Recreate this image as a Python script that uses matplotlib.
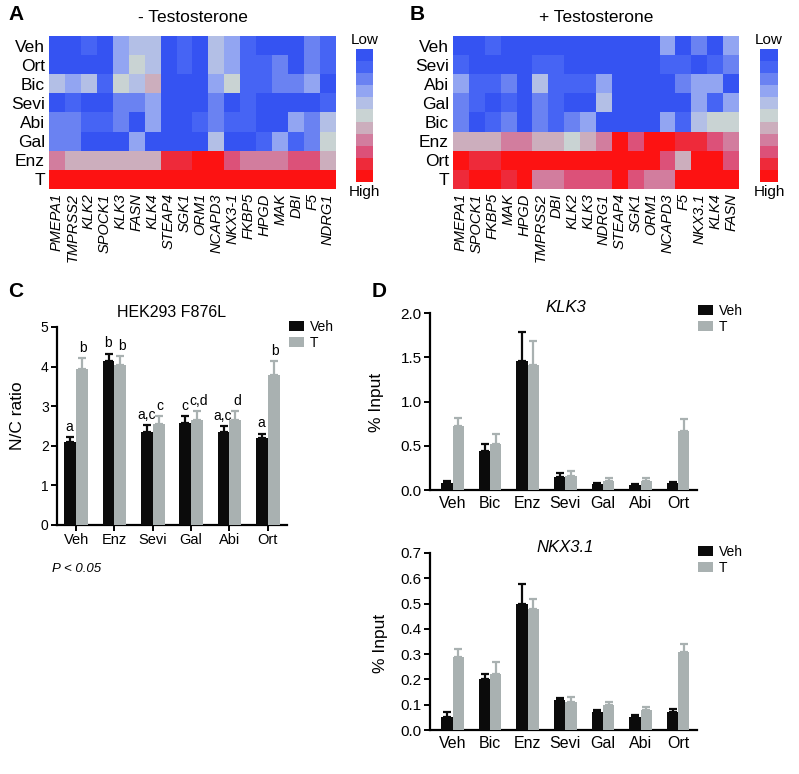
import numpy as np
import matplotlib
matplotlib.use("Agg")
import matplotlib.pyplot as plt
from matplotlib.colors import ListedColormap, BoundaryNorm
from matplotlib.patches import Patch

plt.rcParams['font.family'] = ['Liberation Sans', 'DejaVu Sans']

W, H = 799, 774

# heatmap levels, 0 = low ... 10 = high
rows_a = ["Veh", "Ort", "Bic", "Sevi", "Abi", "Gal", "Enz", "T"]
genes_a = ["PMEPA1", "TMPRSS2", "KLK2", "SPOCK1", "KLK3", "FASN", "KLK4", "STEAP4", "SGK1",
           "ORM1", "NCAPD3", "NKX3-1", "FKBP5", "HPGD", "MAK", "DBI", "F5", "NDRG1"]
heat_a = [
    [0, 0, 1, 0, 3, 4, 4, 0, 1, 0, 4, 3, 1, 0, 0, 0, 2, 1],
    [0, 0, 0, 0, 3, 5, 4, 0, 1, 0, 4, 3, 1, 1, 2, 0, 2, 1],
    [4, 3, 4, 1, 5, 4, 6, 0, 0, 0, 3, 5, 1, 1, 2, 2, 3, 0],
    [0, 1, 0, 0, 2, 2, 3, 0, 0, 0, 2, 0, 1, 0, 0, 0, 0, 1],
    [2, 2, 1, 1, 2, 0, 3, 0, 0, 1, 2, 1, 1, 0, 0, 3, 2, 4],
    [2, 2, 0, 0, 0, 3, 0, 0, 0, 0, 4, 0, 0, 1, 3, 1, 2, 5],
    [7, 6, 6, 6, 6, 6, 6, 9, 9, 10, 10, 8, 7, 7, 7, 8, 8, 6],
    [10, 10, 10, 10, 10, 10, 10, 10, 10, 10, 10, 10, 10, 10, 10, 10, 10, 10],
]

rows_b = ["Veh", "Sevi", "Abi", "Gal", "Bic", "Enz", "Ort", "T"]
genes_b = ["PMEPA1", "SPOCK1", "FKBP5", "MAK", "HPGD", "TMPRSS2", "DBI", "KLK2", "KLK3",
           "NDRG1", "STEAP4", "SGK1", "ORM1", "NCAPD3", "F5", "NKX3.1", "KLK4", "FASN"]
heat_b = [
    [0, 0, 1, 0, 0, 0, 0, 0, 0, 0, 0, 0, 0, 3, 0, 2, 0, 3],
    [1, 0, 0, 0, 0, 1, 1, 0, 0, 0, 0, 0, 0, 1, 1, 0, 1, 2],
    [3, 1, 1, 2, 0, 4, 1, 1, 1, 3, 0, 0, 0, 0, 2, 3, 3, 0],
    [2, 1, 0, 1, 0, 2, 1, 0, 0, 4, 0, 0, 0, 0, 0, 3, 1, 3],
    [2, 0, 1, 2, 0, 2, 1, 2, 3, 0, 0, 0, 0, 3, 1, 4, 5, 5],
    [6, 6, 6, 7, 7, 6, 6, 5, 6, 7, 10, 8, 10, 10, 9, 9, 8, 7],
    [10, 9, 9, 10, 10, 10, 10, 10, 10, 10, 10, 10, 10, 8, 6, 10, 10, 8],
    [9, 10, 10, 9, 10, 7, 7, 8, 8, 8, 10, 8, 7, 7, 10, 10, 10, 10],
]

level_colors = ["#3553f2", "#4664f4", "#6a82f2", "#92a5f2", "#b3bfe6", "#c9d3d3",
                "#ccaebd", "#d27d9e", "#dc5179", "#ee2a3a", "#fd1212"]

# panel C
groups_c = ["Veh", "Enz", "Sevi", "Gal", "Abi", "Ort"]
veh_c = [2.1, 4.15, 2.36, 2.58, 2.34, 2.19]
veh_c_err = [0.12, 0.18, 0.17, 0.16, 0.15, 0.12]
t_c = [3.95, 4.03, 2.54, 2.64, 2.65, 3.8]
t_c_err = [0.26, 0.23, 0.2, 0.23, 0.23, 0.34]
veh_c_letters = ["a", "b", "a,c", "c", "a,c", "a"]
t_c_letters = ["b", "b", "c", "c,d", "d", "b"]

# panel D
groups_d = ["Veh", "Bic", "Enz", "Sevi", "Gal", "Abi", "Ort"]
veh_klk3 = [0.08, 0.44, 1.46, 0.15, 0.07, 0.06, 0.08]
veh_klk3_err = [0.02, 0.08, 0.32, 0.04, 0.01, 0.01, 0.01]
t_klk3 = [0.72, 0.52, 1.41, 0.16, 0.10, 0.10, 0.67]
t_klk3_err = [0.09, 0.11, 0.27, 0.05, 0.03, 0.03, 0.13]

veh_nkx = [0.05, 0.20, 0.50, 0.12, 0.07, 0.05, 0.07]
veh_nkx_err = [0.02, 0.022, 0.076, 0.008, 0.01, 0.008, 0.012]
t_nkx = [0.29, 0.22, 0.48, 0.11, 0.10, 0.08, 0.31]
t_nkx_err = [0.03, 0.05, 0.04, 0.02, 0.012, 0.012, 0.03]

BLACK = "#0b0b0b"
GRAY = "#a9b1b1"


def box(x0, y0, x1, y1):
    return [x0 / W, 1 - y1 / H, (x1 - x0) / W, (y1 - y0) / H]


def ftext(x, y, s, **kw):
    fig.text(x / W, 1 - y / H, s, **kw)


fig = plt.figure(figsize=(W / 100, H / 100), dpi=100)

cmap = ListedColormap(level_colors)
norm = BoundaryNorm(np.arange(-0.5, 11.5, 1), cmap.N)


def heatmap(rect, cbar_rect, rows, genes, data, title, letter, letter_x):
    ax = fig.add_axes(box(*rect))
    ax.imshow(np.array(data), cmap=cmap, norm=norm, aspect="auto", interpolation="nearest")
    ax.set_yticks(range(len(rows)))
    ax.set_yticklabels(rows, fontsize=12.5)
    ax.set_xticks(range(len(genes)))
    ax.set_xticklabels(genes, rotation=90, fontsize=10.5, style="italic")
    ax.tick_params(length=0, pad=3)
    for s in ax.spines.values():
        s.set_visible(False)
    cx = (rect[0] + rect[2]) / 2
    ftext(cx, 17, title, ha="center", va="center", fontsize=12.5)
    ftext(letter_x, 14, letter, ha="left", va="center", fontsize=15, fontweight="bold")

    # discrete colour key, low on top
    cax = fig.add_axes(box(*cbar_rect))
    key = np.arange(len(level_colors)).reshape(-1, 1)
    cax.imshow(key, cmap=cmap, norm=norm, aspect="auto", interpolation="nearest")
    cax.set_xticks([])
    cax.set_yticks([])
    for s in cax.spines.values():
        s.set_visible(False)
    mx = (cbar_rect[0] + cbar_rect[2]) / 2
    ftext(mx, cbar_rect[1] - 9, "Low", ha="center", va="center", fontsize=11)
    ftext(mx, cbar_rect[3] + 10, "High", ha="center", va="center", fontsize=11)


heatmap((49, 36, 336, 189), (356, 49, 373, 182), rows_a, genes_a, heat_a,
        "- Testosterone", "A", 8)
heatmap((453, 36, 739, 189), (760, 49, 778, 182), rows_b, genes_b, heat_b,
        "+ Testosterone", "B", 410)


def bar_panel(ax, cats, veh, veh_err, t, t_err, width, ylim, yticks, ytl, xfs, yfs):
    x = np.arange(len(cats))
    z = np.zeros(len(cats))
    ekw = dict(capsize=3, elinewidth=1.6, capthick=1.6)
    ax.bar(x - width / 2, veh, width, color=BLACK, yerr=[z, veh_err],
           error_kw=dict(ecolor=BLACK, **ekw), label="Veh", zorder=3)
    ax.bar(x + width / 2, t, width, color=GRAY, yerr=[z, t_err],
           error_kw=dict(ecolor=GRAY, **ekw), label="T", zorder=3)
    ax.set_xticks(x)
    ax.set_xticklabels(cats, fontsize=xfs)
    ax.set_ylim(*ylim)
    ax.set_yticks(yticks)
    ax.set_yticklabels(ytl, fontsize=yfs)
    ax.set_xlim(-0.55, len(cats) - 0.5)
    for s in ["top", "right"]:
        ax.spines[s].set_visible(False)
    for s in ["left", "bottom"]:
        ax.spines[s].set_linewidth(1.6)
    ax.tick_params(width=1.4, length=4, pad=2)
    return x


def legend(x, y):
    handles = [Patch(facecolor=BLACK, edgecolor="none", label="Veh"),
               Patch(facecolor=GRAY, edgecolor="none", label="T")]
    fig.legend(handles=handles, loc="upper left", bbox_to_anchor=(x / W, 1 - y / H),
               frameon=False, fontsize=10, handlelength=1.1, handleheight=0.7,
               handletextpad=0.4, labelspacing=0.15, borderaxespad=0, borderpad=0)


# panel C
axc = fig.add_axes(box(57, 327, 287, 525))
xc = bar_panel(axc, groups_c, veh_c, veh_c_err, t_c, t_c_err, 0.31,
               (0, 5), range(6), [str(i) for i in range(6)], 10.5, 10)
for i in range(len(groups_c)):
    axc.text(xc[i] - 0.17, veh_c[i] + veh_c_err[i] + 0.08, veh_c_letters[i],
             ha="center", va="bottom", fontsize=10)
    axc.text(xc[i] + 0.19, t_c[i] + t_c_err[i] + 0.08, t_c_letters[i],
             ha="center", va="bottom", fontsize=10)
axc.set_xlim(-0.5, 5.5)
ftext(172, 312, "HEK293 F876L", ha="center", va="center", fontsize=11.5)
ftext(18, 416, "N/C ratio", ha="center", va="center", rotation=90, fontsize=12.5)
ftext(52, 569, "P < 0.05", ha="left", va="center", fontsize=9.5, style="italic")
ftext(8, 292, "C", ha="left", va="center", fontsize=15, fontweight="bold")
legend(289, 320)

# panel D top
axd1 = fig.add_axes(box(430, 313, 697, 490))
bar_panel(axd1, groups_d, veh_klk3, veh_klk3_err, t_klk3, t_klk3_err, 0.3,
          (0, 2), [0, 0.5, 1.0, 1.5, 2.0], ["0.0", "0.5", "1.0", "1.5", "2.0"], 11.5, 11)
axd1.set_xlim(-0.6, 6.5)
axd1.tick_params(axis="x", length=0, pad=4)
ftext(566, 307, "KLK3", ha="center", va="center", fontsize=12, style="italic")
ftext(377, 402, "% Input", ha="center", va="center", rotation=90, fontsize=12.5)
ftext(372, 292, "D", ha="left", va="center", fontsize=15, fontweight="bold")
legend(698, 304)

# panel D bottom
axd2 = fig.add_axes(box(430, 553, 697, 730))
bar_panel(axd2, groups_d, veh_nkx, veh_nkx_err, t_nkx, t_nkx_err, 0.3,
          (0, 0.7), np.arange(0, 0.71, 0.1), ["%.1f" % v for v in np.arange(0, 0.71, 0.1)], 11.5, 11)
axd2.set_xlim(-0.6, 6.5)
axd2.tick_params(axis="x", length=0, pad=4)
ftext(565, 548, "NKX3.1", ha="center", va="center", fontsize=12, style="italic")
ftext(380, 643, "% Input", ha="center", va="center", rotation=90, fontsize=12.5)
legend(698, 545)

fig.savefig("out.png", dpi=100)
